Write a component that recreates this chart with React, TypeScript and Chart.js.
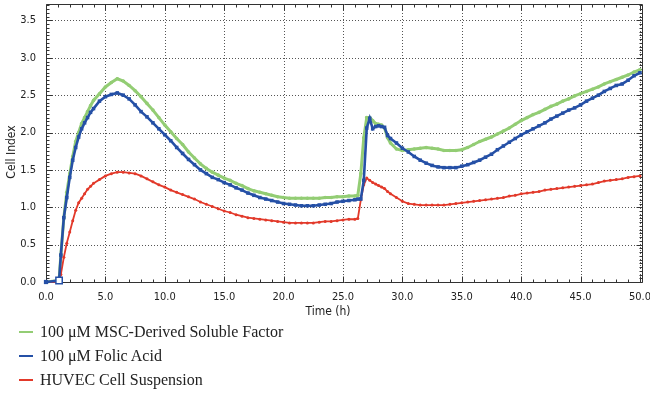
import React, { useEffect, useRef } from "react";
import { Chart, registerables } from "chart.js";

Chart.register(...registerables);

// Time (h)
const timeH = [
  0, 1.1, 1.25, 1.5, 1.75, 2.0, 2.25, 2.5, 2.75, 3.0, 3.25, 3.5, 3.75, 4.0, 4.5, 5.0, 5.5, 6.0, 6.5, 7.0, 7.5, 8.0, 8.5, 9.0, 9.5, 10.0,
  10.5, 11, 11.5, 12, 12.5, 13, 13.5, 14, 14.5, 15, 15.5, 16, 16.5, 17, 17.5, 18, 18.5, 19, 19.5, 20,
  20.5, 21, 21.5, 22, 22.5, 23, 23.5, 24, 24.5, 25, 25.5, 26, 26.25, 26.5, 26.75, 27.0, 27.25, 27.5, 27.75, 28.0,
  28.25, 28.5, 28.75, 29.0, 29.5, 30, 30.5, 31, 31.5, 32, 32.5, 33, 33.5, 34, 34.5, 35, 35.5, 36, 36.5, 37,
  37.5, 38, 38.5, 39, 39.5, 40, 40.5, 41, 41.5, 42, 42.5, 43, 43.5, 44, 44.5, 45, 45.5, 46, 46.5, 47,
  47.5, 48, 48.5, 49, 49.5, 50,
];

// Cell Index, 100 µM MSC-Derived Soluble Factor
const mscFactor = [
  0, 0.02, 0.36, 0.86, 1.2, 1.45, 1.68, 1.88, 2.0, 2.12, 2.2, 2.28, 2.36, 2.43, 2.52, 2.61, 2.67, 2.72, 2.69, 2.63, 2.56, 2.48, 2.39, 2.3, 2.2, 2.1,
  2.01, 1.92, 1.84, 1.74, 1.66, 1.58, 1.52, 1.47, 1.43, 1.39, 1.36, 1.32, 1.29, 1.25, 1.22, 1.2, 1.18, 1.16, 1.14, 1.13,
  1.12, 1.12, 1.12, 1.12, 1.12, 1.12, 1.13, 1.13, 1.14, 1.14, 1.15, 1.15, 1.16, 1.45, 1.93, 2.2, 2.2, 2.16, 2.12, 2.11,
  2.1, 2.06, 1.93, 1.86, 1.78, 1.76, 1.77, 1.78, 1.79, 1.8, 1.79, 1.78, 1.76, 1.76, 1.76, 1.77, 1.8, 1.84, 1.88, 1.91,
  1.94, 1.98, 2.02, 2.06, 2.11, 2.16, 2.2, 2.24, 2.27, 2.31, 2.35, 2.38, 2.42, 2.45, 2.49, 2.52, 2.55, 2.58, 2.61, 2.65,
  2.68, 2.71, 2.74, 2.77, 2.81, 2.84,
];

// Cell Index, 100 µM Folic Acid
const folicAcid = [
  0, 0.02, 0.36, 0.86, 1.13, 1.4, 1.63, 1.8, 1.94, 2.05, 2.13, 2.2, 2.27, 2.32, 2.42, 2.48, 2.51, 2.53, 2.5, 2.45, 2.37, 2.28, 2.21, 2.13, 2.05, 1.97,
  1.89, 1.8, 1.72, 1.64, 1.57, 1.5, 1.45, 1.4, 1.37, 1.33, 1.3, 1.26, 1.23, 1.19, 1.16, 1.13, 1.11, 1.09, 1.07, 1.05,
  1.04, 1.03, 1.02, 1.02, 1.02, 1.03, 1.04, 1.05, 1.07, 1.08, 1.09, 1.1, 1.11, 1.11, 1.36, 2.06, 2.19, 2.05, 2.08, 2.09,
  2.08, 2.07, 1.96, 1.92, 1.86, 1.79, 1.74, 1.68, 1.63, 1.59, 1.56, 1.54, 1.53, 1.53, 1.53, 1.55, 1.57, 1.6, 1.63, 1.67,
  1.71, 1.77, 1.82, 1.87, 1.92, 1.97, 2.01, 2.05, 2.09, 2.13, 2.18, 2.22, 2.26, 2.3, 2.33, 2.37, 2.42, 2.46, 2.5, 2.55,
  2.59, 2.63, 2.65, 2.7, 2.76, 2.8,
];

// Cell Index, HUVEC Cell Suspension
const huvecSuspension = [
  0, 0, 0.1, 0.33, 0.52, 0.67, 0.82, 0.96, 1.06, 1.12, 1.18, 1.24, 1.28, 1.32, 1.37, 1.42, 1.45, 1.47, 1.47, 1.46, 1.45, 1.42, 1.38, 1.34, 1.3, 1.27,
  1.23, 1.2, 1.17, 1.14, 1.11, 1.07, 1.04, 1.01, 0.98, 0.95, 0.93, 0.9, 0.88, 0.86, 0.85, 0.84, 0.83, 0.82, 0.81, 0.8,
  0.79, 0.79, 0.79, 0.79, 0.79, 0.8, 0.81, 0.81, 0.82, 0.83, 0.84, 0.84, 0.85, 1.1, 1.3, 1.39, 1.36, 1.33, 1.31, 1.29,
  1.27, 1.25, 1.21, 1.18, 1.13, 1.08, 1.05, 1.04, 1.03, 1.03, 1.03, 1.03, 1.03, 1.04, 1.05, 1.06, 1.07, 1.08, 1.09, 1.1,
  1.11, 1.12, 1.13, 1.15, 1.16, 1.18, 1.19, 1.2, 1.21, 1.23, 1.24, 1.25, 1.26, 1.27, 1.28, 1.29, 1.3, 1.31, 1.33, 1.35,
  1.36, 1.37, 1.38, 1.4, 1.41, 1.42,
];

const seriesLabels = [
  "100 \u03bcM MSC-Derived Soluble Factor",
  "100 \u03bcM Folic Acid",
  "HUVEC Cell Suspension",
];

const xTickValues = [0, 5, 10, 15, 20, 25, 30, 35, 40, 45, 50];
const yTickValues = [0, 0.5, 1, 1.5, 2, 2.5, 3, 3.5];
const xAxisTitle = "Time (h)";
const yAxisTitle = "Cell Index";
const addTime = 1.1; // time of the open marker (cell addition)

const GREEN = "#93cd74";
const BLUE = "#2550a6";
const RED = "#e2392a";
const SANS = "'Liberation Sans Narrow', 'DejaVu Sans Condensed', 'Liberation Sans', Arial, sans-serif";

const toPoints = (ys: number[]) => ys.map((y, i) => ({ x: timeH[i], y }));

function drawGrid(chart: any) {
  const { ctx, chartArea: a, scales } = chart;
  const xs = scales.x;
  const ys = scales.y;
  ctx.save();
  ctx.strokeStyle = "#555555";
  ctx.lineWidth = 1;
  ctx.setLineDash([1, 2]);
  for (const v of xTickValues) {
    if (v === 0) continue;
    const px = Math.round(xs.getPixelForValue(v)) + 0.5;
    ctx.beginPath();
    ctx.moveTo(px, a.top);
    ctx.lineTo(px, a.bottom);
    ctx.stroke();
  }
  for (const v of yTickValues) {
    if (v === 0) continue;
    const py = Math.round(ys.getPixelForValue(v)) + 0.5;
    ctx.beginPath();
    ctx.moveTo(a.left, py);
    ctx.lineTo(a.right, py);
    ctx.stroke();
  }
  ctx.setLineDash([]);
  ctx.restore();
}

function drawFrame(chart: any) {
  const { ctx, chartArea: a, scales } = chart;
  const xs = scales.x;
  const ys = scales.y;
  ctx.save();
  ctx.strokeStyle = "#333333";
  ctx.lineWidth = 1;
  ctx.setLineDash([]);
  const L = Math.round(a.left) + 0.5;
  const R = Math.round(a.right) + 0.5;
  const T = Math.round(a.top) + 0.5;
  const B = Math.round(a.bottom) + 0.5;
  ctx.beginPath();
  ctx.moveTo(L, T);
  ctx.lineTo(R, T);
  ctx.lineTo(R, B);
  ctx.lineTo(L, B);
  ctx.closePath();
  for (let t = 0; t <= 50; t += 1) {
    const px = Math.round(xs.getPixelForValue(t)) + 0.5;
    const len = t % 5 === 0 ? 6 : 3;
    ctx.moveTo(px, B);
    ctx.lineTo(px, B - len);
    ctx.moveTo(px, T);
    ctx.lineTo(px, T + len);
  }
  for (let k = 0; k <= 74; k += 1) {
    const v = k * 0.05;
    const py = Math.round(ys.getPixelForValue(v)) + 0.5;
    if (py < T) break;
    const len = k % 10 === 0 ? 6 : 3;
    ctx.moveTo(L, py);
    ctx.lineTo(L + len, py);
    ctx.moveTo(R, py);
    ctx.lineTo(R - len, py);
  }
  ctx.stroke();
  ctx.restore();
}

const framePlugin = {
  id: "frame",
  beforeDatasetsDraw(chart: any) {
    drawGrid(chart);
    drawFrame(chart);
  },
  afterDraw(chart: any) {
    const { ctx } = chart;
    ctx.save();
    ctx.fillStyle = "#222";
    ctx.font = `12px ${SANS}`;
    ctx.textAlign = "center";
    ctx.textBaseline = "middle";
    ctx.fillText(xAxisTitle, 328, 312);
    ctx.translate(12, 152);
    ctx.rotate(-Math.PI / 2);
    ctx.fillText(yAxisTitle, 0, 0);
    ctx.restore();
  },
};

export default function App() {
  const ref = useRef<HTMLCanvasElement | null>(null);

  useEffect(() => {
    document.body.style.margin = "0";
    const canvas = ref.current;
    if (!canvas) return;
    const tickFont = { family: SANS, size: 11 };
    const chart = new Chart(canvas, {
      type: "line",
      data: {
        datasets: [
          {
            label: seriesLabels[0],
            data: toPoints(mscFactor),
            borderColor: GREEN,
            backgroundColor: GREEN,
            borderWidth: 3,
            pointStyle: "circle",
            pointRadius: 1.8,
            pointBorderWidth: 0,
            order: 2,
            clip: false as any,
          },
          {
            label: seriesLabels[1],
            data: toPoints(folicAcid),
            borderColor: BLUE,
            backgroundColor: (c: any) => (c.raw && c.raw.x === addTime ? "#ffffff" : BLUE),
            borderWidth: 2.6,
            pointStyle: "rect",
            pointRadius: (c: any) => (c.raw && c.raw.x === addTime ? 4.5 : c.raw && c.raw.x === 0 ? 3 : 2.5),
            pointBorderWidth: (c: any) => (c.raw && c.raw.x === addTime ? 1.5 : 0),
            pointBorderColor: BLUE,
            order: 0,
            clip: false as any,
          },
          {
            label: seriesLabels[2],
            data: toPoints(huvecSuspension),
            borderColor: RED,
            backgroundColor: RED,
            borderWidth: 1.8,
            pointStyle: "circle",
            pointRadius: 1.5,
            pointBorderWidth: 0,
            order: 1,
            clip: false as any,
          },
        ],
      },
      options: {
        responsive: false,
        animation: false,
        layout: { padding: { top: 4, right: 8, left: 0, bottom: 0 } },
        plugins: { legend: { display: false }, tooltip: { enabled: false } },
        elements: { line: { tension: 0 } },
        scales: {
          x: {
            type: "linear",
            min: 0,
            max: 50.17,
            afterBuildTicks: (s: any) => {
              s.ticks = xTickValues.map((v) => ({ value: v }));
            },
            afterFit: (s: any) => {
              s.height = 124;
              s.paddingLeft = 0;
              s.paddingRight = 0;
            },
            grid: { display: false, drawTicks: false },
            border: { display: false },
            ticks: {
              padding: 9,
              color: "#222",
              font: tickFont,
              maxRotation: 0,
              autoSkip: false,
              callback: (v: any) => Number(v).toFixed(1),
            },
          },
          y: {
            type: "linear",
            min: 0,
            max: 3.72,
            afterBuildTicks: (s: any) => {
              s.ticks = yTickValues.map((v) => ({ value: v }));
            },
            afterFit: (s: any) => {
              s.width = 46;
              s.paddingTop = 0;
              s.paddingBottom = 0;
            },
            grid: { display: false, drawTicks: false },
            border: { display: false },
            ticks: {
              padding: 10,
              color: "#222",
              font: tickFont,
              autoSkip: false,
              callback: (v: any) => Number(v).toFixed(1),
            },
          },
        },
      },
      plugins: [framePlugin],
    } as any);
    return () => chart.destroy();
  }, []);

  const legendColors = [GREEN, BLUE, RED];
  const rowTops = [320, 344, 368];

  return (
    <div style={{ position: "relative", width: 650, height: 406 }}>
      <canvas ref={ref} width={650} height={406} style={{ display: "block" }} />
      {seriesLabels.map((label, i) => (
        <div
          key={label}
          style={{
            position: "absolute",
            left: 19,
            top: rowTops[i],
            height: 24,
            display: "flex",
            alignItems: "center",
            fontFamily: "'Liberation Serif', 'Times New Roman', serif",
            fontSize: 16,
            color: "#222",
            whiteSpace: "nowrap",
          }}
        >
          <span style={{ display: "inline-block", width: 14, height: 2, background: legendColors[i], marginRight: 7 }} />
          <span>{label}</span>
        </div>
      ))}
    </div>
  );
}
